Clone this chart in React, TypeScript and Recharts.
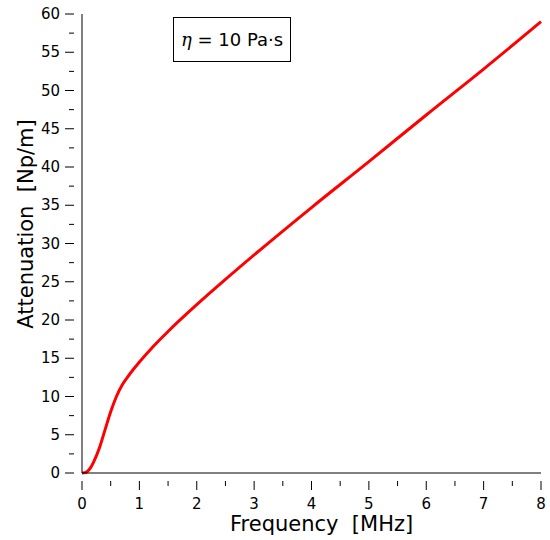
import { LineChart, Line, XAxis, YAxis } from "recharts";

const freq = [0, 0.05, 0.1, 0.15, 0.2, 0.3, 0.4, 0.5, 0.6, 0.7, 0.8, 0.9, 1, 1.25, 1.5, 2, 2.5, 3, 4, 5, 6, 7, 8];
const atten = [0, 0.05, 0.25, 0.7, 1.4, 3.2, 5.6, 8.0, 10.0, 11.5, 12.6, 13.6, 14.5, 16.6, 18.5, 22, 25.3, 28.5, 34.7, 40.7, 46.8, 52.8, 59];
const xTicks = Array.from({ length: 17 }, (_, i) => i * 0.5);
const yTicks = Array.from({ length: 25 }, (_, i) => i * 2.5);

const data = freq.map((f, i) => ({ f, a: atten[i] }));
const font = "DejaVu Sans, sans-serif";

function XTick(props: any) {
  const { x, y, payload } = props;
  const major = Number.isInteger(payload.value);
  return (
    <g>
      <line x1={x} x2={x} y1={y} y2={y + (major ? 9 : 5)} stroke="#000" strokeWidth={1} />
      {major && (
        <text x={x} y={y + 28} textAnchor="middle" fontSize={15} fontFamily={font} fill="#000">{payload.value}</text>
      )}
    </g>
  );
}

function YTick(props: any) {
  const { x, y, payload } = props;
  const major = payload.value % 5 === 0;
  return (
    <g>
      <line x1={x} x2={x - (major ? 9 : 5)} y1={y} y2={y} stroke="#000" strokeWidth={1} />
      {major && (
        <text x={x - 14} y={y + 5} textAnchor="end" fontSize={15} fontFamily={font} fill="#000">{payload.value}</text>
      )}
    </g>
  );
}

export default function App() {
  return (
    <div style={{ position: "absolute", left: 0, top: 0, width: 550, height: 540, background: "#fff" }}>
      <LineChart width={550} height={540} data={data} margin={{ top: 14, right: 9, left: 22, bottom: 29 }}>
        <XAxis dataKey="f" type="number" domain={[0, 8]} ticks={xTicks} interval={0} tick={<XTick />} tickLine={false}
          axisLine={{ stroke: "#000" }} height={38} />
        <YAxis type="number" domain={[0, 60]} ticks={yTicks} interval={0} tick={<YTick />} tickLine={false}
          axisLine={{ stroke: "#000" }} width={60} />
        <Line dataKey="a" type="monotone" stroke="#ff0000" strokeWidth={3} dot={false} isAnimationActive={false} />
      </LineChart>
      <div style={{ position: "absolute", left: 230, top: 512, fontFamily: font, fontSize: 21, whiteSpace: "pre" }}>
        Frequency  [MHz]
      </div>
      <div style={{ position: "absolute", left: 26, top: 224, fontFamily: font, fontSize: 21, whiteSpace: "pre",
        transform: "translate(-50%, -50%) rotate(-90deg)" }}>
        Attenuation  [Np/m]
      </div>
      <div style={{ position: "absolute", left: 173, top: 17, width: 118, height: 45, border: "1px solid #000",
        boxSizing: "border-box", display: "flex", alignItems: "center", justifyContent: "center",
        fontFamily: font, fontSize: 18 }}>
        <i style={{ fontFamily: "DejaVu Serif, serif" }}>η</i>&nbsp;=&nbsp;10 Pa·s
      </div>
    </div>
  );
}
